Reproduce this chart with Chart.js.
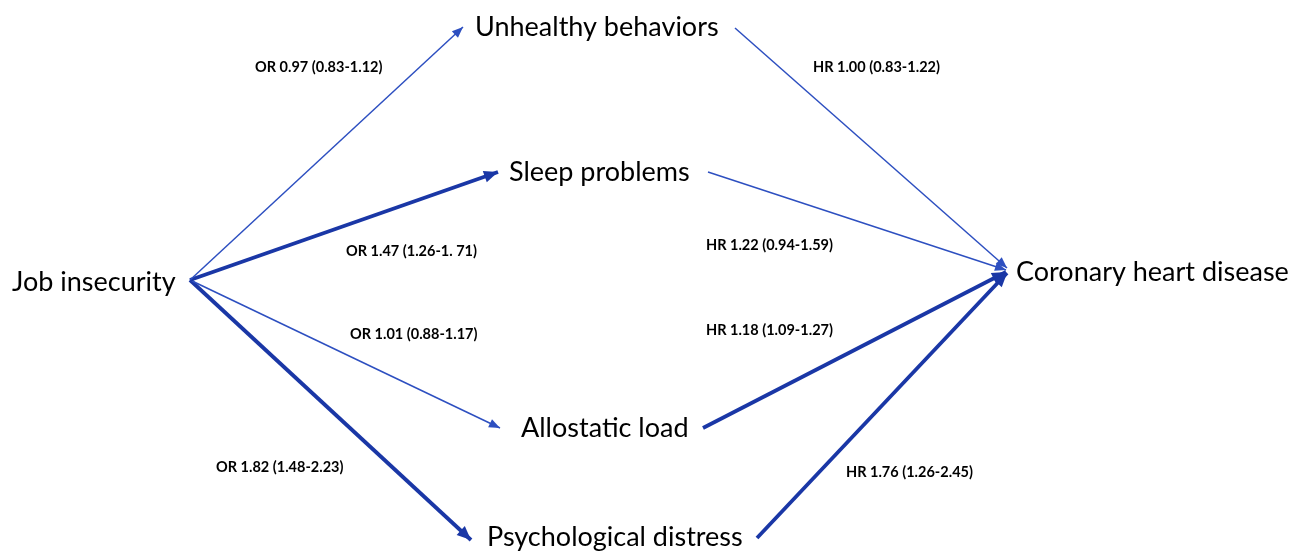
<!DOCTYPE html>
<html>
<head>
<meta charset="utf-8">
<title>Job insecurity and coronary heart disease</title>
<script src="https://cdn.jsdelivr.net/npm/chart.js@4.4.0/dist/chart.umd.min.js"></script>
<style>
  html, body { margin: 0; padding: 0; background: #fff; }
  #wrap { width: 1292px; height: 551px; position: relative; }
</style>
</head>
<body>
<div id="wrap"><canvas id="chart-path"></canvas></div>
<script>
  // Nodes of the path diagram (label start x, centre y)
  var nodeNames = ['Job insecurity', 'Unhealthy behaviors', 'Sleep problems',
                   'Allostatic load', 'Psychological distress', 'Coronary heart disease'];
  var nodeX = [12, 475, 509, 521, 487, 1016];
  var nodeY = [282, 27, 172, 428, 537, 272];

  // Paths: start point, arrow tip, estimate, significant or not
  var edgeX0 = [190, 190, 190, 190, 735, 708, 703, 757];
  var edgeY0 = [280, 280, 280, 280, 28, 172, 428, 538];
  var edgeX1 = [463, 498, 500, 471, 1007, 1006, 1006, 1007];
  var edgeY1 = [27, 172, 428, 540, 268, 270, 272, 273];
  var edgeSig = [false, true, false, true, false, false, true, true];
  var edgeLabels = ['OR 0.97 (0.83-1.12)', 'OR 1.47 (1.26-1. 71)', 'OR 1.01 (0.88-1.17)',
                    'OR 1.82 (1.48-2.23)', 'HR 1.00 (0.83-1.22)', 'HR 1.22 (0.94-1.59)',
                    'HR 1.18 (1.09-1.27)', 'HR 1.76 (1.26-2.45)'];
  var edgeLabelX = [255, 346, 350, 216, 813, 706, 706, 846];
  var edgeLabelY = [67, 251, 334, 467, 67, 245, 330, 472];

  var THIN  = '#2d4fc0';
  var THICK = '#1a37a6';

  var datasets = edgeX0.map(function (x0, i) {
    return {
      data: [{ x: x0, y: edgeY0[i] }, { x: edgeX1[i], y: edgeY1[i] }],
      showLine: true,
      borderColor: edgeSig[i] ? THICK : THIN,
      borderWidth: edgeSig[i] ? 3.8 : 1.5,
      borderCapStyle: 'butt',
      pointRadius: 0,
      tension: 0,
      fill: false
    };
  });

  // arrow heads at the tip of each path
  var arrowHeads = {
    id: 'arrowHeads',
    afterDatasetsDraw: function (chart) {
      var ctx = chart.ctx, xs = chart.scales.x, ys = chart.scales.y;
      chart.data.datasets.forEach(function (ds, i) {
        var a = ds.data[0], b = ds.data[1];
        var ax = xs.getPixelForValue(a.x), ay = ys.getPixelForValue(a.y);
        var bx = xs.getPixelForValue(b.x), by = ys.getPixelForValue(b.y);
        var ang = Math.atan2(by - ay, bx - ax);
        var len = edgeSig[i] ? 14 : 11, half = edgeSig[i] ? 6 : 4.5;
        ctx.save();
        ctx.translate(bx, by);
        ctx.rotate(ang);
        ctx.beginPath();
        ctx.moveTo(0, 0);
        ctx.lineTo(-len, -half);
        ctx.lineTo(-len, half);
        ctx.closePath();
        ctx.fillStyle = ds.borderColor;
        ctx.fill();
        ctx.restore();
      });
    }
  };

  // node names and estimates
  var textLabels = {
    id: 'textLabels',
    afterDraw: function (chart) {
      var ctx = chart.ctx, xs = chart.scales.x, ys = chart.scales.y;
      ctx.save();
      ctx.fillStyle = '#000';
      ctx.textAlign = 'left';
      ctx.textBaseline = 'middle';
      ctx.font = '27px Lato, "Open Sans", sans-serif';
      nodeNames.forEach(function (n, i) {
        ctx.fillText(n, xs.getPixelForValue(nodeX[i]), ys.getPixelForValue(nodeY[i]));
      });
      ctx.font = 'bold 14.5px Lato, "Open Sans", sans-serif';
      edgeLabels.forEach(function (t, i) {
        ctx.fillText(t, xs.getPixelForValue(edgeLabelX[i]), ys.getPixelForValue(edgeLabelY[i]));
      });
      ctx.restore();
    }
  };

  new Chart(document.getElementById('chart-path'), {
    type: 'scatter',
    data: { datasets: datasets },
    options: {
      responsive: true,
      maintainAspectRatio: false,
      animation: false,
      layout: { padding: 0 },
      plugins: { legend: { display: false }, tooltip: { enabled: false } },
      scales: {
        x: { type: 'linear', min: 0, max: 1292, display: false },
        y: { type: 'linear', min: 0, max: 551, reverse: true, display: false }
      }
    },
    plugins: [arrowHeads, textLabels]
  });
</script>
</body>
</html>
